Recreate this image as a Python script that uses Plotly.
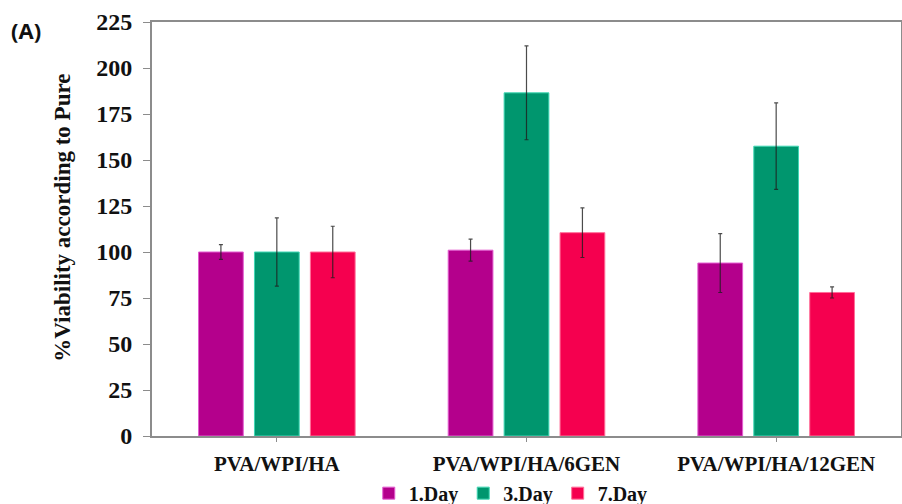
import plotly.graph_objects as go

# Samples on the x axis
categories = ["PVA/WPI/HA", "PVA/WPI/HA/6GEN", "PVA/WPI/HA/12GEN"]

# % viability relative to pure, per culture day (mean and SD)
day1_mean = [100, 101, 94]
day1_sd = [4, 6, 16]
day3_mean = [100, 186.5, 157.5]
day3_sd = [18.5, 25.5, 23.5]
day7_mean = [100, 110.5, 78]
day7_sd = [14, 13.5, 3]

series_names = ["1.Day", "3.Day", "7.Day"]
fill_colors = ["#B4008C", "#00966E", "#F5004F"]
edge_colors = ["#E35BD0", "#3FD7B4", "#FF6E98"]

y_ticks = [0, 25, 50, 75, 100, 125, 150, 175, 200, 225]

SERIF = "Liberation Serif, Times New Roman, serif"

fig = go.Figure()
for name, mean, sd, fc, ec in zip(
    series_names,
    [day1_mean, day3_mean, day7_mean],
    [day1_sd, day3_sd, day7_sd],
    fill_colors,
    edge_colors,
):
    fig.add_trace(
        go.Bar(
            name=name,
            x=categories,
            y=mean,
            marker=dict(color=fc, line=dict(color=ec, width=1)),
            error_y=dict(
                type="data",
                array=sd,
                visible=True,
                color="rgba(30,30,30,0.8)",
                thickness=1.2,
                width=2,
            ),
        )
    )

axis_line = "#8C8C8C"

fig.update_layout(
    width=902,
    height=504,
    margin=dict(l=152, r=1, t=22, b=68, autoexpand=False),
    paper_bgcolor="white",
    plot_bgcolor="white",
    barmode="group",
    bargap=0.328,
    bargroupgap=0.2,
    showlegend=True,
    legend=dict(
        orientation="h",
        x=0.479,
        xanchor="center",
        y=-0.138,
        yanchor="middle",
        font=dict(family=SERIF, size=20, color="#111111", weight="bold"),
        itemwidth=30,
        tracegroupgap=0,
        bgcolor="rgba(0,0,0,0)",
    ),
    xaxis=dict(
        showline=True,
        linecolor=axis_line,
        linewidth=2,
        mirror=True,
        ticks="outside",
        ticklen=4,
        tickcolor=axis_line,
        tickfont=dict(family=SERIF, size=21, color="#111111", weight="bold"),
        ticklabelstandoff=4,
        showgrid=False,
    ),
    yaxis=dict(
        range=[0, 225],
        tickvals=y_ticks,
        showline=True,
        linecolor=axis_line,
        linewidth=2,
        mirror=True,
        ticks="outside",
        ticklen=7,
        tickcolor=axis_line,
        tickfont=dict(family=SERIF, size=24, color="#111111", weight="bold"),
        ticklabelstandoff=6,
        showgrid=False,
        zeroline=False,
    ),
    annotations=[
        dict(
            text="<b>%Viability according to Pure</b>",
            xref="paper",
            yref="paper",
            x=-0.119,
            y=0.527,
            xanchor="center",
            yanchor="middle",
            textangle=-90,
            showarrow=False,
            font=dict(family=SERIF, size=23, color="#111111"),
        ),
        dict(
            text="<b>(A)</b>",
            xref="paper",
            yref="paper",
            x=-0.191,
            y=0.981,
            xanchor="left",
            yanchor="middle",
            showarrow=False,
            font=dict(family="Open Sans, Liberation Sans, sans-serif", size=22, color="#111111"),
        ),
    ],
)

fig.write_html("out.html")
